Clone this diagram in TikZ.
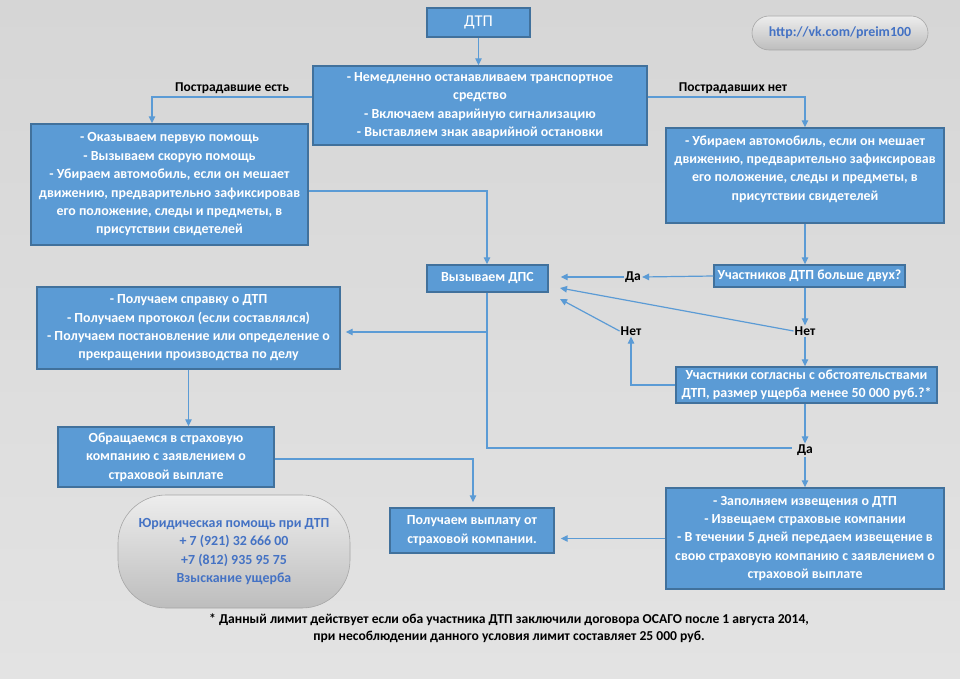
\documentclass[tikz,border=0pt]{standalone}
\usepackage{fontspec}
\setmainfont{Carlito}
\usetikzlibrary{arrows.meta}
\definecolor{bgtop}{HTML}{D6D6D6}
\definecolor{bgbot}{HTML}{E3E3E3}
\definecolor{boxfill}{HTML}{5B9BD5}
\definecolor{boxline}{HTML}{41719C}
\definecolor{conncol}{HTML}{5B9BD5}
\definecolor{pilltext}{HTML}{4472C4}
\definecolor{pilltop}{HTML}{EDEDED}
\definecolor{pillbot}{HTML}{BDBDBD}
\definecolor{pillline}{HTML}{A6A6A6}
\begin{document}
\begin{tikzpicture}[x=1pt,y=-1pt]
\tikzset{
  box/.style={draw=boxline, fill=boxfill, line width=1.4pt, inner sep=0pt,
     text=white, align=center, font=\bfseries\fontsize{13.9}{18.4}\selectfont},
  boxtext/.style={text=white, align=center, inner sep=0pt, font=\bfseries\fontsize{13.9}{18.4}\selectfont},
  lbl/.style={text=black, inner sep=1pt, font=\bfseries\fontsize{13.5}{16}\selectfont},
  pill/.style={draw=pillline, line width=0.6pt, top color=pilltop, bottom color=pillbot,
     text=pilltext, align=center, inner sep=0pt, font=\bfseries\fontsize{13.9}{18.4}\selectfont},
  conn/.style={draw=conncol, line width=1.2pt},
  arr/.style={conn, -{Triangle[length=7pt,width=6.5pt]}},
}
\useasboundingbox (0,0) rectangle (960,679);
\fill[top color=bgtop, bottom color=bgbot] (0,0) rectangle (960,679);

% boxes
\node[box, minimum width=103, minimum height=29, font=\fontsize{16.5}{19}\selectfont] (dtp) at (478.5,22.5) {ДТП};
\node[box, minimum width=334, minimum height=79] (main) at (480,105.5)
  {- Немедленно останавливаем транспортное\\средство\\- Включаем аварийную сигнализацию\\- Выставляем знак аварийной остановки};
\node[box, minimum width=277, minimum height=121] (left1) at (169.5,184.5)
  {- Оказываем первую помощь\\- Вызываем скорую помощь\\- Убираем автомобиль, если он мешает\\движению, предварительно зафиксировав\\его положение, следы и предметы, в\\присутствии свидетелей};
\node[box, minimum width=278, minimum height=95] (right1) at (805,175.5) {};
\node[boxtext] (right1t) at (805,169)
  {- Убираем автомобиль, если он мешает\\движению, предварительно зафиксировав\\его положение, следы и предметы, в\\присутствии свидетелей};
\node[box, minimum width=121, minimum height=27] (dps) at (487.5,278.5) {Вызываем ДПС};
\node[box, minimum width=191, minimum height=22] (q1) at (809.5,276) {Участников ДТП больше двух?};
\node[box, minimum width=261, minimum height=36] (q2) at (806.5,385)
  {Участники согласны с обстоятельствами\\ДТП, размер ущерба менее 50 000 руб.?*};
\node[box, minimum width=303, minimum height=82] (spr) at (188.5,328)
  {- Получаем справку о ДТП\\- Получаем протокол (если составлялся)\\- Получаем постановление или определение о\\прекращении производства по делу};
\node[box, minimum width=216, minimum height=60] (obr) at (166,457)
  {Обращаемся в страховую\\компанию с заявлением о\\страховой выплате};
\node[box, minimum width=164, minimum height=45] (vypl) at (472,530.5)
  {Получаем выплату от\\страховой компании.};
\node[box, minimum width=278, minimum height=101] (izv) at (805,538.5)
  {- Заполняем извещения о ДТП\\- Извещаем страховые компании\\- В течении 5 дней передаем извещение в\\свою страховую компанию с заявлением о\\страховой выплате};

% pills
\node[pill, rounded corners=48pt, minimum width=232, minimum height=113] (yur) at (234,551.5)
  {Юридическая помощь при ДТП\\+ 7 (921) 32 666 00\\+7 (812) 935 95 75\\Взыскание ущерба};
\node[pill, rounded corners=17pt, minimum width=176, minimum height=34] (url) at (840,33)
  {http://vk.com/preim100};

% labels
\node[lbl] (pe) at (232,88) {Пострадавшие есть};
\node[lbl] (pn) at (733,88) {Пострадавших нет};
\node[lbl] (da1) at (633,277) {Да};
\node[lbl] (net1) at (805,331) {Нет};
\node[lbl] (net2) at (631,331) {Нет};
\node[lbl] (da2) at (805,450) {Да};
\node[text=black, align=center, inner sep=0pt, font=\bfseries\fontsize{13.6}{16.5}\selectfont] (foot) at (509,628)
  {* Данный лимит действует если оба участника ДТП заключили договора ОСАГО после 1 августа 2014,\\при несоблюдении данного условия лимит составляет 25 000 руб.};

% helper coordinates
\coordinate (pl) at (152,97);
\coordinate (pr) at (805,97);
\coordinate (pm) at (487,191);
\coordinate (pd) at (487,448);
\coordinate (pb) at (487,332);
\coordinate (po) at (473,459);
\coordinate (dpsA) at (560,288);
\coordinate (dpsB) at (560,299);

% connectors
\draw[arr] (dtp.south) -- (main.north -| dtp.south);
\draw[arr] (main.west |- pl) -- (pl) -- (left1.north -| pl);
\draw[arr] (main.east |- pr) -- (pr) -- (right1.north -| pr);
\draw[arr] (left1.east |- pm) -- (pm) -- (dps.north -| pm);
\draw[arr] (right1.south) -- (right1.south |- q1.north);
\draw[arr] (q1.west) -- (da1.east);
\draw[arr, shorten >=12pt] (da1.west) -- (dps.east |- da1.west);
\draw[arr] (net1 |- q1.south) -- (net1.north);
\draw[arr] (net1.west) -- (dpsA);
\draw[arr] (net1.south) -- (net1.south |- q2.north);
\draw[arr] (q2.west) -- (q2.west -| net2.south) -- (net2.south);
\draw[arr] (net2.west) -- (dpsB);
\draw[arr] (da2 |- q2.south) -- (da2.north);
\draw[arr] (da2.south) -- (da2.south |- izv.north);
\draw[conn, shorten >=4pt] (dps.south -| pd) -- (pd) -- (da2.west |- pd);
\draw[arr, shorten >=5pt] (pb) -- (spr.east |- pb);
\draw[arr] (spr.south) -- (spr.south |- obr.north);
\draw[arr, shorten >=5pt] (obr.east |- po) -- (po) -- (po |- vypl.north);
\draw[arr, shorten >=6pt] (izv.west) -- (vypl.east |- izv.west);
\end{tikzpicture}
\end{document}
